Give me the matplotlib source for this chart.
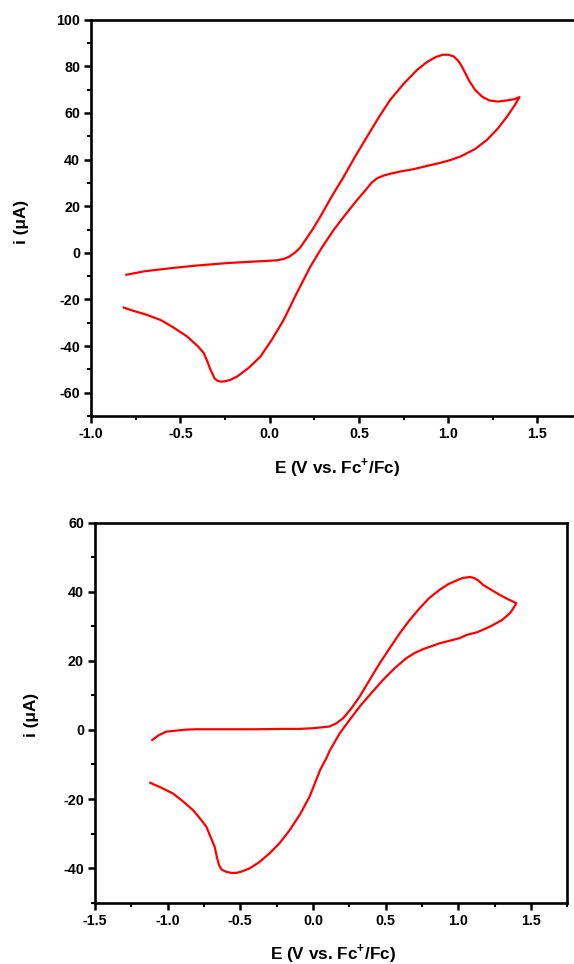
import matplotlib

matplotlib.use("Agg")
import matplotlib.pyplot as plt
from matplotlib.ticker import MultipleLocator

plt.rcParams["font.family"] = ["Liberation Sans", "DejaVu Sans"]
plt.rcParams["font.weight"] = "bold"
plt.rcParams["axes.unicode_minus"] = False
plt.rcParams["mathtext.fontset"] = "custom"
plt.rcParams["mathtext.rm"] = "Liberation Sans:bold"
plt.rcParams["mathtext.bf"] = "Liberation Sans:bold"

# CV 1: forward sweep from -0.8 V to 1.4 V, then back
cv1_E = [
    -0.803, -0.70, -0.60, -0.519, -0.40, -0.239, -0.10, 0.0, 0.041, 0.08,
    0.11, 0.14, 0.17, 0.20, 0.24, 0.284, 0.35, 0.415, 0.48, 0.546,
    0.61, 0.676, 0.75, 0.826, 0.88, 0.93, 0.97, 1.00, 1.03, 1.055,
    1.075, 1.095, 1.12, 1.15, 1.19, 1.23, 1.28, 1.33, 1.37, 1.40,
    1.37, 1.33, 1.28, 1.218, 1.15, 1.068, 1.012, 0.95, 0.882, 0.80,
    0.732, 0.68, 0.64, 0.602, 0.57, 0.54, 0.49, 0.42, 0.359, 0.29,
    0.228, 0.15, 0.078, 0.01, -0.052, -0.12, -0.183, -0.22, -0.25, -0.275,
    -0.295, -0.31, -0.32, -0.332, -0.35, -0.37, -0.40, -0.463, -0.54, -0.612,
    -0.70, -0.76, -0.818,
]
cv1_i = [
    -9.4, -7.9, -7.0, -6.3, -5.4, -4.4, -3.8, -3.4, -3.2, -2.6,
    -1.6, 0.0, 2.2, 5.5, 10.0, 15.6, 24.5, 32.7, 41.5, 49.9,
    58.0, 65.7, 72.5, 78.5, 81.8, 84.0, 85.0, 85.0, 84.3, 82.5,
    80.2, 77.2, 73.5, 70.0, 67.0, 65.4, 64.9, 65.4, 65.9, 66.8,
    63.0, 58.5, 53.5, 48.5, 44.5, 41.3, 39.8, 38.5, 37.3, 35.8,
    34.9, 34.0, 33.2, 32.0, 30.0, 27.2, 22.7, 16.0, 9.9, 2.0,
    -5.9, -17.5, -28.8, -37.5, -44.5, -49.5, -53.1, -54.5, -55.1, -55.3,
    -54.8, -53.8, -52.0, -50.2, -46.5, -43.0, -40.3, -35.9, -32.0, -28.8,
    -26.3, -25.0, -23.5,
]

# CV 2: forward sweep from -1.1 V to 1.4 V, then back
cv2_E = [
    -1.106, -1.06, -1.01, -0.964, -0.872, -0.803, -0.60, -0.40, -0.20, -0.092,
    0.0, 0.115, 0.16, 0.207, 0.26, 0.322, 0.39, 0.459, 0.53, 0.597,
    0.665, 0.735, 0.80, 0.872, 0.93, 0.988, 1.03, 1.079, 1.11, 1.14,
    1.171, 1.23, 1.286, 1.34, 1.40,
    1.375, 1.355, 1.30, 1.217, 1.13, 1.056, 1.01, 0.872, 0.758, 0.70,
    0.643, 0.56, 0.482, 0.40, 0.322, 0.25, 0.184, 0.115, 0.092, 0.05,
    -0.023, -0.09, -0.16, -0.23, -0.298, -0.37, -0.436, -0.49, -0.528, -0.56,
    -0.596, -0.63, -0.647, -0.66, -0.677, -0.734, -0.78, -0.826, -0.90, -0.964,
    -1.04, -1.12,
]
cv2_i = [
    -2.9, -1.5, -0.5, -0.3, 0.1, 0.2, 0.2, 0.2, 0.3, 0.3,
    0.5, 1.0, 1.9, 3.4, 6.0, 9.7, 14.5, 19.3, 23.8, 28.0,
    31.8, 35.3, 38.2, 40.6, 42.2, 43.3, 44.0, 44.3, 44.0, 43.2,
    42.0, 40.5, 39.1, 37.9, 36.7,
    35.0, 33.8, 31.8, 29.9, 28.3, 27.5, 26.6, 25.1, 23.4, 22.3,
    20.8, 17.8, 14.5, 10.6, 6.8, 2.8, -1.0, -6.0, -8.2, -11.5,
    -19.3, -24.5, -29.0, -32.8, -35.7, -38.3, -40.1, -41.0, -41.4, -41.4,
    -41.1, -40.4, -39.1, -37.0, -33.8, -28.0, -25.5, -23.2, -20.5, -18.4,
    -16.8, -15.3,
]

AX_TOP = [0.159, 0.5685, 0.855, 0.411]
AX_BOTTOM = [0.1655, 0.0637, 0.8228, 0.394]
XLABEL = "E (V vs. Fc$^{+}$/Fc)"
YLABEL = "i (\u03bcA)"
TICK_SIZE = 10.3
LABEL_SIZE = 12.3


def style_axes(ax, x_major, x_minor, y_major, y_minor):
    for side in ("left", "bottom", "top", "right"):
        ax.spines[side].set_linewidth(1.9)
    ax.xaxis.set_major_locator(MultipleLocator(x_major))
    ax.xaxis.set_minor_locator(MultipleLocator(x_minor))
    ax.yaxis.set_major_locator(MultipleLocator(y_major))
    ax.yaxis.set_minor_locator(MultipleLocator(y_minor))
    ax.tick_params(which="major", direction="out", length=5, width=1.8,
                   labelsize=TICK_SIZE, pad=3)
    ax.tick_params(which="minor", direction="out", length=3, width=1.5)
    ax.tick_params(top=False, right=False, which="both")
    for lab in ax.get_xticklabels() + ax.get_yticklabels():
        lab.set_fontweight("bold")


fig = plt.figure(figsize=(5.74, 9.64), dpi=100)

ax1 = fig.add_axes(AX_TOP)
ax1.plot(cv1_E, cv1_i, color="#ff0000", linewidth=1.6)
ax1.set_xlim(-1.0, 1.75)
ax1.set_ylim(-70, 100)
style_axes(ax1, 0.5, 0.25, 20, 10)
ax1.set_xlabel(XLABEL, fontsize=LABEL_SIZE, fontweight="bold")
ax1.set_ylabel(YLABEL, fontsize=LABEL_SIZE, fontweight="bold")
ax1.xaxis.set_label_coords(0.5, -0.131)
ax1.xaxis.label.set_va("center")
ax1.yaxis.set_label_coords(-0.142, 0.49)
ax1.yaxis.label.set_va("center")

ax2 = fig.add_axes(AX_BOTTOM)
ax2.plot(cv2_E, cv2_i, color="#ff0000", linewidth=1.6)
ax2.set_xlim(-1.5, 1.75)
ax2.set_ylim(-50, 60)
style_axes(ax2, 0.5, 0.25, 20, 10)
ax2.set_xlabel(XLABEL, fontsize=LABEL_SIZE, fontweight="bold")
ax2.set_ylabel(YLABEL, fontsize=LABEL_SIZE, fontweight="bold")
ax2.xaxis.set_label_coords(0.503, -0.133)
ax2.xaxis.label.set_va("center")
ax2.yaxis.set_label_coords(-0.134, 0.494)
ax2.yaxis.label.set_va("center")

fig.savefig("out.png", dpi=100)
